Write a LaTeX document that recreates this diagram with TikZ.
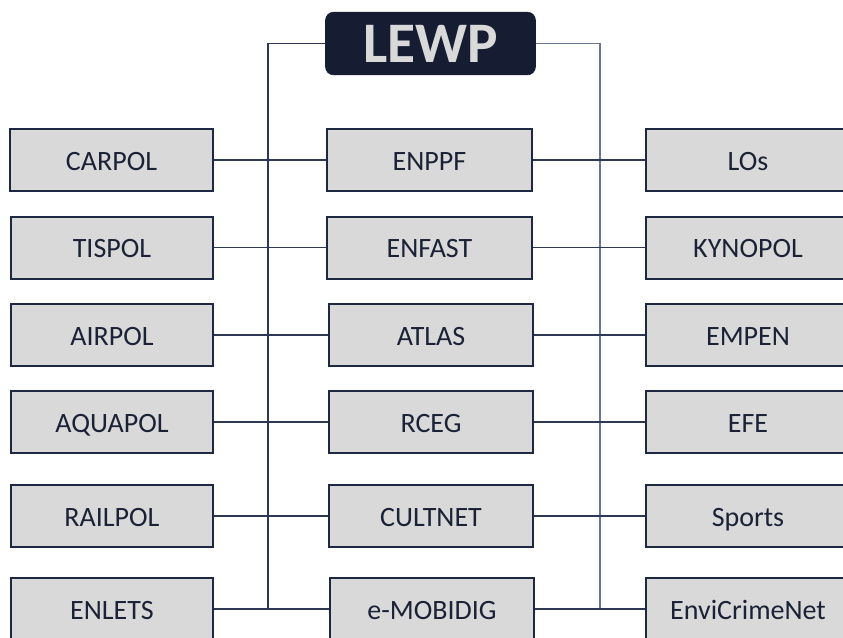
\documentclass[tikz,border=0pt]{standalone}
\usepackage{fontspec}
\setmainfont{Carlito}
\definecolor{boxfill}{HTML}{D9D9D9}
\definecolor{boxline}{HTML}{1E2840}
\definecolor{navy}{HTML}{161D33}
\definecolor{txt}{HTML}{1B2236}
\definecolor{lnk}{HTML}{2E3753}
\definecolor{lnkr}{HTML}{6B7390}
\tikzset{
  unitbox/.style={draw=boxline, line width=1.5pt, fill=boxfill, minimum height=46.5pt,
    inner sep=0pt, text=txt, font=\fontsize{21}{24}\selectfont,
    text height=19pt, text depth=4pt},
  lcol/.style={unitbox, minimum width=152pt},
  mcol/.style={unitbox, minimum width=153.5pt},
  rcol/.style={unitbox, minimum width=153pt},
  topbox/.style={draw=navy, fill=navy, rounded corners=6pt, minimum width=157.5pt,
    minimum height=47pt, inner sep=0pt, text=boxfill, font=\fontsize{43}{46}\selectfont\bfseries},
  conn/.style={draw=lnk, line width=0.8pt},
  connr/.style={draw=lnkr, line width=0.8pt}
}
\begin{document}
\begin{tikzpicture}[x=0.75pt, y=-0.75pt]
\useasboundingbox (0,0) rectangle (843,637);
\clip (0,0) rectangle (843,637);
\fill[white] (0,0) rectangle (843,637);
% top
\node[topbox] (lewp) at (430.5,43.5) {LEWP};
% left column
\node[lcol] (carpol) at (111.5,160) {CARPOL};
\node[lcol] (tispol) at (112,247.5) {TISPOL};
\node[lcol] (airpol) at (112,335) {AIRPOL};
\node[lcol] (aquapol) at (112,422) {AQUAPOL};
\node[lcol] (railpol) at (112,516) {RAILPOL};
\node[lcol] (enlets) at (112,609) {ENLETS};
% middle column
\node[mcol] (enppf) at (429.5,160) {ENPPF};
\node[mcol] (enfast) at (429.5,247.5) {ENFAST};
\node[mcol] (atlas) at (431,335) {ATLAS};
\node[mcol] (rceg) at (431,422) {RCEG};
\node[mcol] (cultnet) at (431,516) {CULTNET};
\node[mcol] (emobidig) at (432,609) {e-MOBIDIG};
% right column
\node[rcol] (los) at (748,160) {LOs};
\node[rcol] (kynopol) at (748,247.5) {KYNOPOL};
\node[rcol] (empen) at (748,335) {EMPEN};
\node[rcol] (efe) at (748,422) {EFE};
\node[rcol] (sports) at (748,516) {Sports};
\node[rcol] (envi) at (748,609) {EnviCrimeNet};
% trunk ends
\coordinate (lbot) at (268,610);
\coordinate (rbot) at (600,610);
% trunks
\draw[conn] (lewp.west) -| (lbot);
\draw[connr] (lewp.east) -| (rbot);
% left-to-middle connectors
\draw[conn] (carpol.east) -- (enppf.west);
\draw[conn] (tispol.east) -- (enfast.west);
\draw[conn] (airpol.east) -- (atlas.west);
\draw[conn] (aquapol.east) -- (rceg.west);
\draw[conn] (railpol.east) -- (cultnet.west);
\draw[conn] (enlets.east) -- (emobidig.west);
% middle-to-right connectors
\draw[conn] (enppf.east) -- (los.west);
\draw[conn] (enfast.east) -- (kynopol.west);
\draw[conn] (atlas.east) -- (empen.west);
\draw[conn] (rceg.east) -- (efe.west);
\draw[conn] (cultnet.east) -- (sports.west);
\draw[conn] (emobidig.east) -- (envi.west);
\end{tikzpicture}
\end{document}
